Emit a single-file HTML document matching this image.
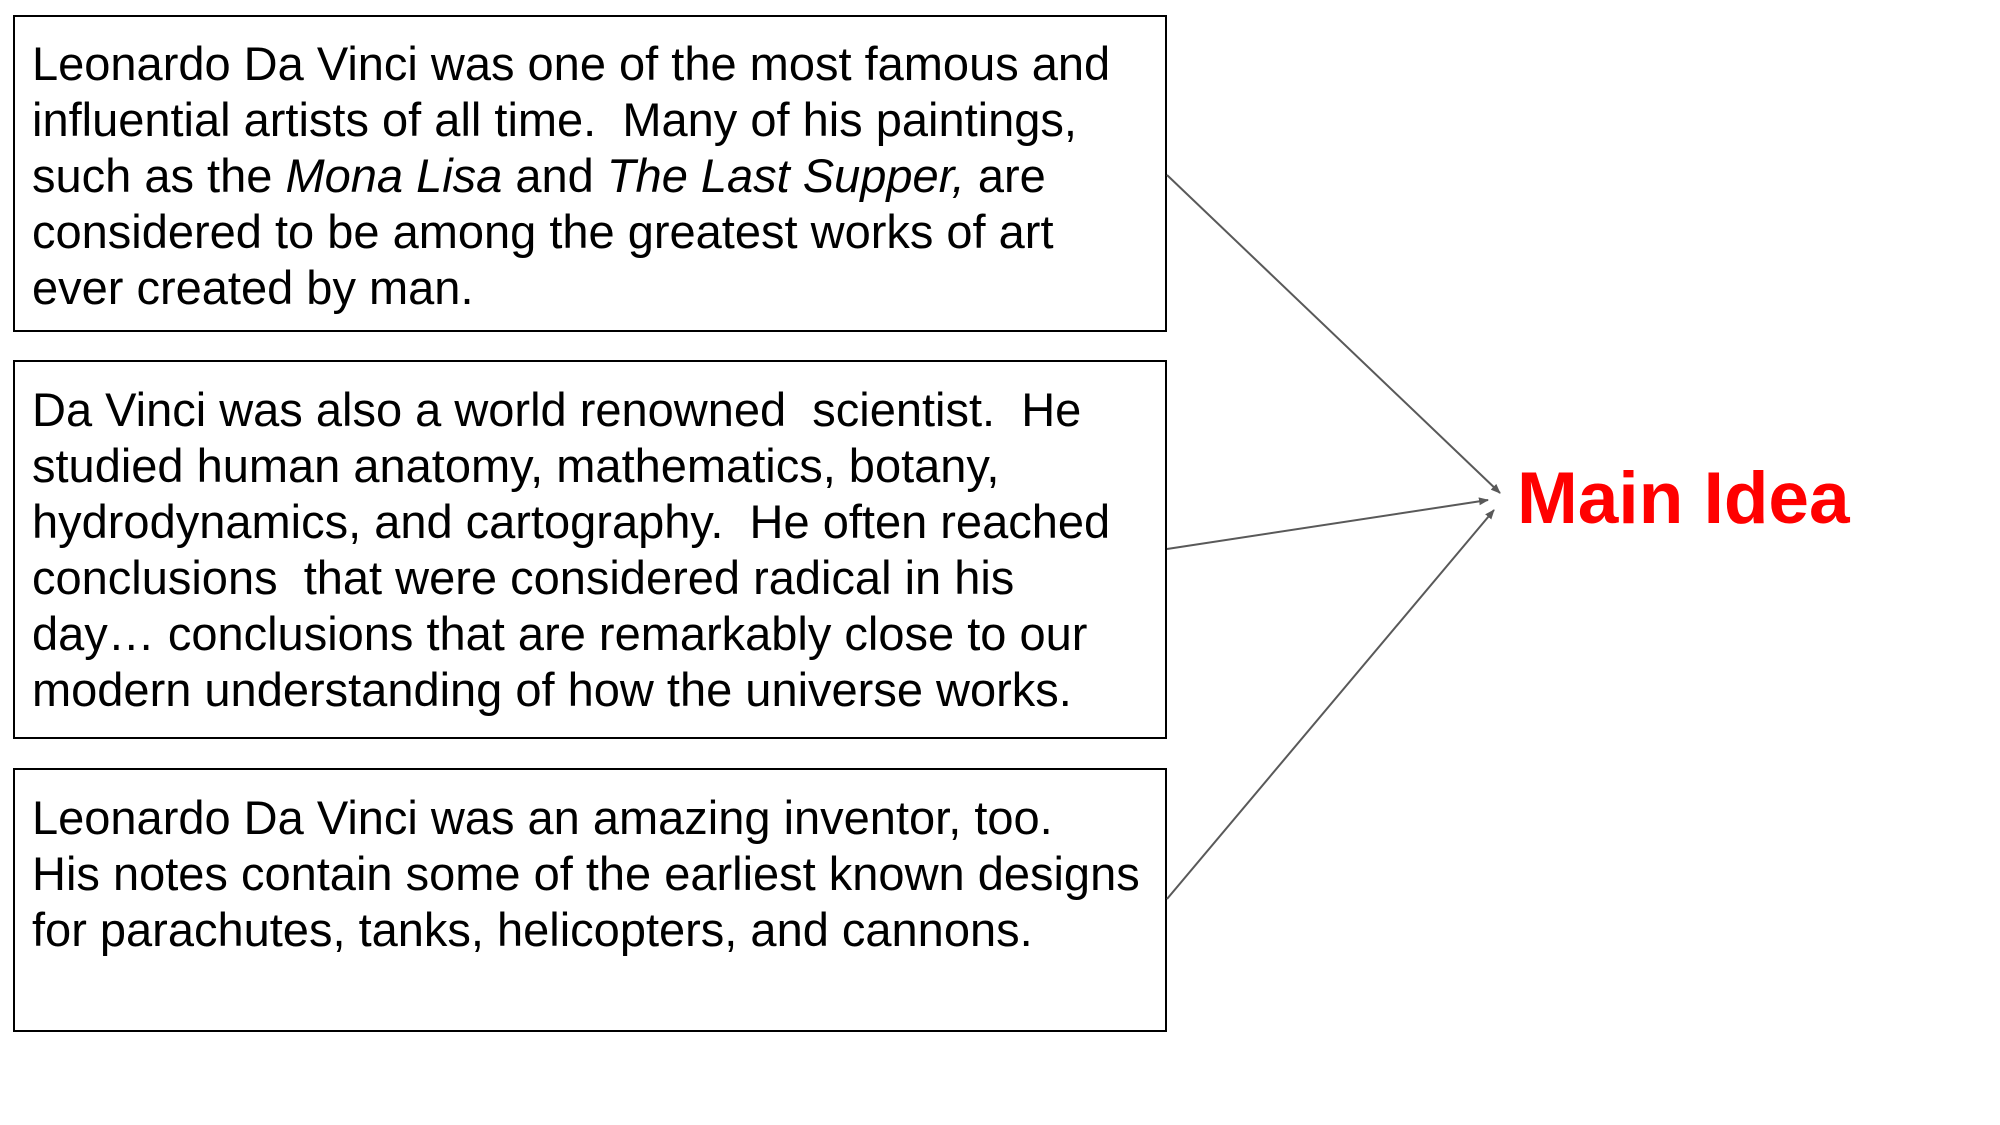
<!DOCTYPE html>
<html><head><meta charset="utf-8"><style>
body{margin:0;width:2000px;height:1125px;background:#fff;position:relative;overflow:hidden;font-family:"Liberation Sans",Arial,sans-serif}
.b{position:absolute;left:13px;width:1154px;border:2px solid #000;box-sizing:border-box}
.t{position:absolute;left:32px;font-size:47px;line-height:56px;color:#000;white-space:nowrap}
.m{position:absolute;left:1517px;top:454px;font-size:73px;font-weight:bold;color:#f00;line-height:90px}
</style></head><body>
<div class="b" style="top:15px;height:317px"></div>
<div class="b" style="top:360px;height:379px"></div>
<div class="b" style="top:768px;height:264px"></div>
<div class="t" style="top:36px">Leonardo Da Vinci was one of the most famous and<br>influential artists of all time.&nbsp; Many of his paintings,<br>such as the <i>Mona Lisa</i> and <i>The Last Supper,</i> are<br>considered to be among the greatest works of art<br>ever created by man.</div>
<div class="t" style="top:382px">Da Vinci was also a world renowned&nbsp; scientist.&nbsp; He<br>studied human anatomy, mathematics, botany,<br>hydrodynamics, and cartography.&nbsp; He often reached<br>conclusions&nbsp; that were considered radical in his<br>day… conclusions that are remarkably close to our<br>modern understanding of how the universe works.</div>
<div class="t" style="top:790px">Leonardo Da Vinci was an amazing inventor, too.<br>His notes contain some of the earliest known designs<br>for parachutes, tanks, helicopters, and cannons.</div>
<div class="m">Main Idea</div>
<svg width="2000" height="1125" style="position:absolute;left:0;top:0">
<defs><marker id="a" markerWidth="10" markerHeight="8" refX="9" refY="4" orient="auto" markerUnits="userSpaceOnUse"><path d="M0,0 L10,4 L0,8 z" fill="#595959"/></marker></defs>
<g stroke="#595959" stroke-width="2" fill="none">
<line x1="1167" y1="175" x2="1500" y2="493" marker-end="url(#a)"/>
<line x1="1167" y1="549" x2="1488" y2="500" marker-end="url(#a)"/>
<line x1="1167" y1="899" x2="1494" y2="510" marker-end="url(#a)"/>
</g></svg>
</body></html>
